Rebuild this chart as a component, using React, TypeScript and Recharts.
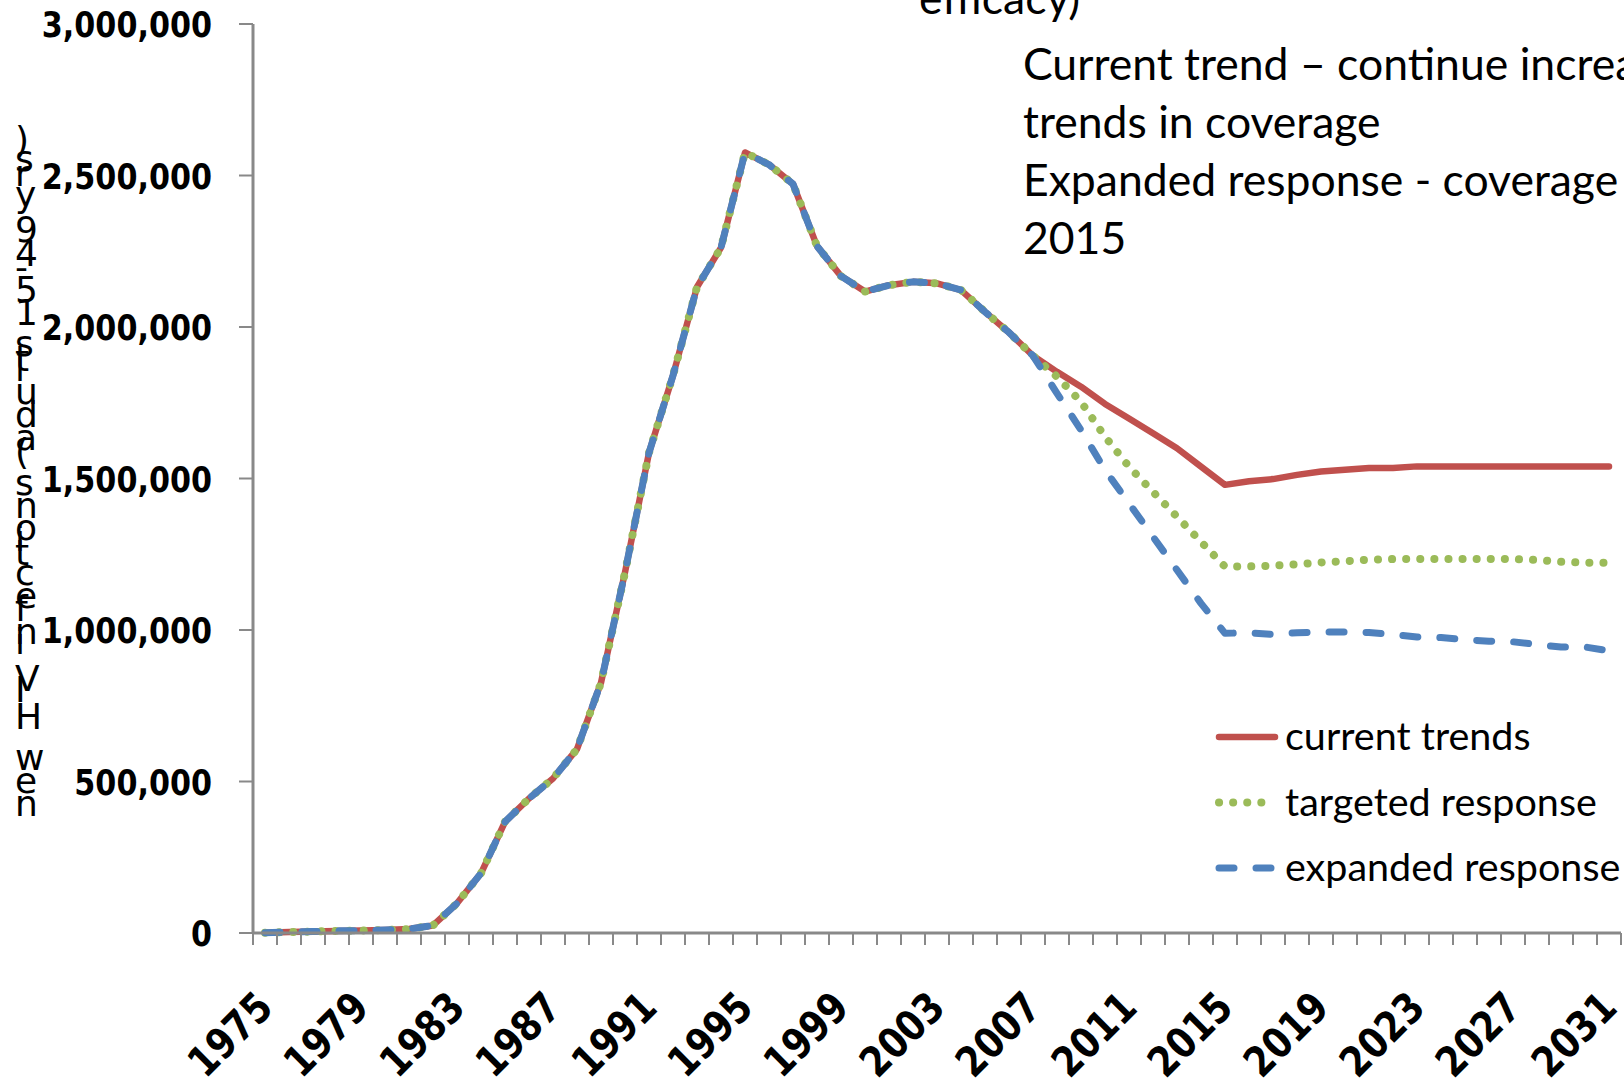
import React from 'react';
import { LineChart, Line, XAxis, YAxis, Legend } from 'recharts';

const years = [
  1975, 1976, 1977, 1978, 1979, 1980, 1981, 1982, 1983, 1984, 1985, 1986, 1987, 1988, 1989,
  1990, 1991, 1992, 1993, 1994, 1995, 1996, 1997, 1998, 1999, 2000, 2001, 2002, 2003, 2004,
  2005, 2006, 2007, 2008, 2009, 2010, 2011, 2012, 2013, 2014, 2015, 2016, 2017, 2018, 2019,
  2020, 2021, 2022, 2023, 2024, 2025, 2026, 2027, 2028, 2029, 2030, 2031,
];

// 1975-2007: identical for all three scenarios
const sharedHistory = [
  1000, 3000, 5000, 7000, 8000, 10000, 13000, 25000, 98000, 197000, 367000, 444000, 510000,
  607000, 826000, 1190000, 1585000, 1840000, 2132000, 2262000, 2576000, 2536000, 2472000,
  2267000, 2168000, 2117000, 2138000, 2149000, 2144000, 2122000, 2050000, 1982000, 1905000,
];

// 2008-2031
const currentTrends = [
  1852000, 1803000, 1746000, 1698000, 1649000, 1600000, 1539000, 1479000, 1491000, 1498000,
  1512000, 1523000, 1529000, 1535000, 1535000, 1540000, 1540000, 1540000, 1540000, 1540000,
  1540000, 1540000, 1540000, 1540000,
];
const targetedResponse = [
  1836000, 1753000, 1638000, 1539000, 1456000, 1374000, 1291000, 1209000, 1210000, 1212000,
  1217000, 1223000, 1227000, 1232000, 1234000, 1234000, 1234000, 1234000, 1234000, 1234000,
  1231000, 1225000, 1222000, 1222000,
];
const expandedResponse = [
  1781000, 1660000, 1528000, 1418000, 1308000, 1198000, 1088000, 989000, 991000, 985000,
  991000, 993000, 993000, 992000, 985000, 977000, 975000, 968000, 963000, 961000, 952000,
  944000, 944000, 931000,
];

const yTicks = [0, 500000, 1000000, 1500000, 2000000, 2500000, 3000000];
const xLabelYears = [1975, 1979, 1983, 1987, 1991, 1995, 1999, 2003, 2007, 2011, 2015, 2019, 2023, 2027, 2031];
const seriesNames = ['current trends', 'targeted response', 'expanded response'];
const yAxisTitle = 'new HIV infections (adults 15-49 yrs)';
const noteTop = 'efficacy)';
const noteLines = [
  'Current trend – continue increasing',
  'trends in coverage',
  'Expanded response - coverage',
  '2015',
];

const COLORS = { current: '#C0504D', targeted: '#9BBB59', expanded: '#4F81BD' };
const AXIS_GRAY = '#898989';

const data = years.map((year, i) => {
  const shared = i < sharedHistory.length;
  const j = i - sharedHistory.length;
  return {
    year,
    current: shared ? sharedHistory[i] : currentTrends[j],
    targeted: shared ? sharedHistory[i] : targetedResponse[j],
    expanded: shared ? sharedHistory[i] : expandedResponse[j],
  };
});

const xDomain = [years[0] - 0.5, years[years.length - 1] + 0.5];
const boundaryTicks = [...years.map((y) => y - 0.5), years[years.length - 1] + 0.5];

const RotatedYearTick = (props: any) => {
  const { x, y, payload } = props;
  const ax = x + 10;
  const ay = y + 65;
  return (
    <text
      x={0}
      y={0}
      transform={`translate(${ax} ${ay}) rotate(-45) scale(0.84 1)`}
      textAnchor="end"
      fontFamily="DejaVu Sans"
      fontWeight="bold"
      fontSize={42}
      fill="#000"
    >
      {payload.value}
    </text>
  );
};

const YValueTick = (props: any) => {
  const { x, y, payload } = props;
  return (
    <text
      x={0}
      y={0}
      dy={13}
      transform={`translate(${x} ${y}) scale(0.84 1)`}
      textAnchor="end"
      fontFamily="DejaVu Sans"
      fontWeight="bold"
      fontSize={36}
      fill="#000"
    >
      {Number(payload.value).toLocaleString('en-US')}
    </text>
  );
};

const YTitle = () => (
  <text
    x={15}
    y={816}
    transform="rotate(-90 15 816)"
    rotate="90"
    fontFamily="DejaVu Sans"
    fontSize={36}
    letterSpacing={0.3}
    fill="#000"
  >
    {yAxisTitle}
  </text>
);

const LegendBox = () => {
  const rows = [
    { name: seriesNames[0], color: COLORS.current, dash: undefined, width: 6.5 },
    { name: seriesNames[1], color: COLORS.targeted, dash: '0.1 14', width: 8 },
    { name: seriesNames[2], color: COLORS.expanded, dash: '15 22', width: 7 },
  ];
  return (
    <svg width={424} height={190} style={{ display: 'block' }}>
      {rows.map((r, i) => {
        const cy = 37 + i * 65.5;
        return (
          <g key={r.name}>
            <line
              x1={22}
              x2={78}
              y1={cy}
              y2={cy}
              stroke={r.color}
              strokeWidth={r.width}
              strokeDasharray={r.dash}
              strokeLinecap="round"
            />
            <text x={88} y={cy + 13} fontFamily="Lato" fontSize={39.5} fill="#000">
              {r.name}
            </text>
          </g>
        );
      })}
    </svg>
  );
};

export default function App() {
  return (
    <div
      style={{
        position: 'absolute',
        left: 0,
        top: 0,
        width: 1624,
        height: 1081,
        overflow: 'hidden',
        background: '#fff',
      }}
    >
      <LineChart
        width={1624}
        height={1081}
        data={data}
        margin={{ top: 24, right: 3, left: 53, bottom: 0 }}
      >
        <XAxis
          xAxisId="axis0"
          type="number"
          dataKey="year"
          domain={xDomain}
          ticks={boundaryTicks}
          interval={0}
          tickFormatter={() => ''}
          height={12}
          tickSize={12}
          axisLine={{ stroke: AXIS_GRAY, strokeWidth: 3 }}
          tickLine={{ stroke: AXIS_GRAY, strokeWidth: 2 }}
        />
        <XAxis
          xAxisId="axis1"
          type="number"
          dataKey="year"
          domain={xDomain}
          ticks={xLabelYears}
          interval={0}
          axisLine={false}
          tickLine={false}
          tickSize={0}
          tickMargin={0}
          height={136}
          tick={<RotatedYearTick />}
        />
        <YAxis
          type="number"
          domain={[0, 3000000]}
          ticks={yTicks}
          interval={0}
          width={200}
          tickSize={14}
          tickMargin={27}
          axisLine={{ stroke: AXIS_GRAY, strokeWidth: 3 }}
          tickLine={{ stroke: AXIS_GRAY, strokeWidth: 2 }}
          tick={<YValueTick />}
          label={{ content: () => <YTitle /> }}
        />
        <Legend
          layout="horizontal"
          align="center"
          verticalAlign="middle"
          wrapperStyle={{ left: 1197, top: 700, width: 424, height: 190 }}
          content={() => <LegendBox />}
        />
        <Line
          xAxisId="axis0"
          type="linear"
          dataKey="current"
          name={seriesNames[0]}
          stroke={COLORS.current}
          strokeWidth={6.5}
          strokeLinecap="round"
          strokeLinejoin="round"
          dot={false}
          isAnimationActive={false}
        />
        <Line
          xAxisId="axis0"
          type="linear"
          dataKey="targeted"
          name={seriesNames[1]}
          stroke={COLORS.targeted}
          strokeWidth={8}
          strokeDasharray="0.1 14"
          strokeLinecap="round"
          strokeLinejoin="round"
          dot={false}
          isAnimationActive={false}
        />
        <Line
          xAxisId="axis0"
          type="linear"
          dataKey="expanded"
          name={seriesNames[2]}
          stroke={COLORS.expanded}
          strokeWidth={7}
          strokeDasharray="15 22"
          strokeLinecap="round"
          strokeLinejoin="round"
          dot={false}
          isAnimationActive={false}
        />
      </LineChart>
      <svg
        width={1624}
        height={1081}
        style={{ position: 'absolute', left: 0, top: 0, pointerEvents: 'none' }}
      >
        <text x={919} y={14} fontFamily="Lato" fontSize={44.5} fill="#000">
          {noteTop}
        </text>
        {noteLines.map((line, i) => (
          <text key={i} x={1023} y={80 + i * 58} fontFamily="Lato" fontSize={44.5} fill="#000">
            {line}
          </text>
        ))}
      </svg>
    </div>
  );
}
